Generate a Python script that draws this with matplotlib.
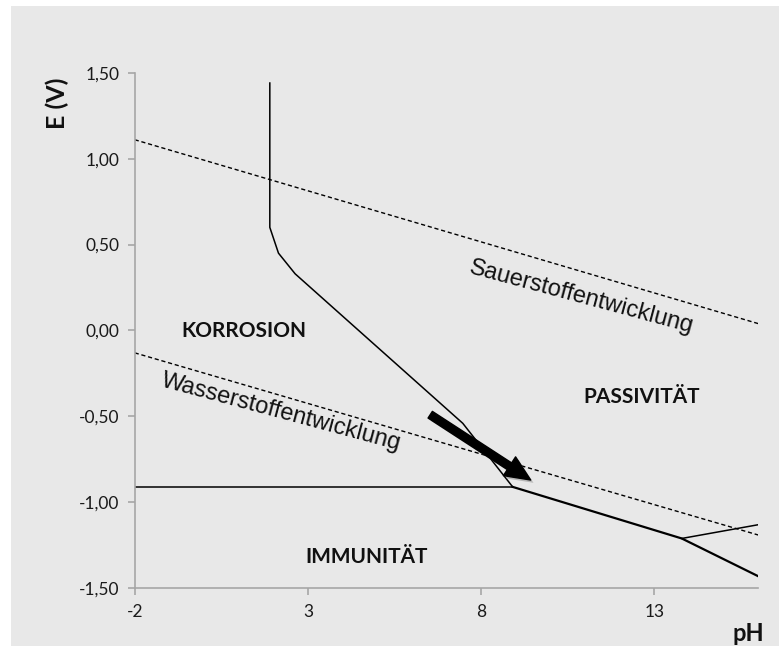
import numpy as np
import matplotlib
matplotlib.use("Agg")
import matplotlib.pyplot as plt
from matplotlib.patches import Rectangle
import matplotlib.patheffects as pe

# ---------------- data ----------------
x_ticks = [-2, 3, 8, 13]
y_ticks = [-1.5, -1.0, -0.5, 0.0, 0.5, 1.0, 1.5]
y_ticklabels = ["-1,50", "-1,00", "-0,50", "0,00", "0,50", "1,00", "1,50"]

ph_o2 = [-2, 16]
e_o2 = [1.11, 0.04]
ph_h2 = [-2, 16]
e_h2 = [-0.13, -1.19]

ph_corr = [1.9, 1.9, 2.15, 2.63, 7.47, 8.91]
e_corr = [1.44, 0.60, 0.45, 0.33, -0.54, -0.91]

ph_imm = [-2, 8.91]
e_imm = [-0.91, -0.91]

ph_pass = [8.91, 13.79, 16]
e_pass = [-0.91, -1.21, -1.43]

ph_branch = [13.79, 16]
e_branch = [-1.21, -1.13]

arrow_start = (6.53, -0.49)
arrow_end = (9.43, -0.87)

region_labels = ["KORROSION", "PASSIVITÄT", "IMMUNITÄT"]
region_ph = [1.16, 12.63, 4.69]
region_e = [-0.035, -0.42, -1.352]

line_labels = ["Sauerstoffentwicklung", "Wasserstoffentwicklung"]
line_label_ph = [10.89, 2.22]
line_label_e = [0.195, -0.475]

# ---------------- figure ----------------
W, H = 779, 646
fig = plt.figure(figsize=(W / 100, H / 100), dpi=100)
fig.patch.set_facecolor("white")
bg = "#e8e8e8"
fig.patches.append(Rectangle((11 / W, 0), 1 - 11 / W, (H - 6) / H,
                             transform=fig.transFigure, facecolor=bg,
                             edgecolor="none", zorder=-10))

ax = fig.add_axes([134.7 / W, 1 - 588.3 / H, (758.3 - 134.7) / W, (588.3 - 72.7) / H])
ax.set_zorder(5)
ax.set_facecolor("none")
ax.set_xlim(-2, 16)
ax.set_ylim(-1.5, 1.5)

for s in ["top", "right"]:
    ax.spines[s].set_visible(False)
for s in ["left", "bottom"]:
    ax.spines[s].set_color("#a6a6a6")
    ax.spines[s].set_linewidth(1.2)

ax.set_xticks(x_ticks)
ax.set_xticklabels([str(v) for v in x_ticks])
ax.set_yticks(y_ticks)
ax.set_yticklabels(y_ticklabels)
ax.tick_params(direction="out", length=5, width=1.2, color="#a6a6a6",
               labelsize=12.5, labelcolor="#1a1a1a", pad=6)
for lab in ax.get_xticklabels() + ax.get_yticklabels():
    lab.set_family("Lato")

# lines
ax.plot(ph_o2, e_o2, color="black", lw=1.0, ls=(0, (3, 2)))
ax.plot(ph_h2, e_h2, color="black", lw=1.0, ls=(0, (3, 2)))
ax.plot(ph_corr, e_corr, color="black", lw=1.1)
ax.plot(ph_imm, e_imm, color="black", lw=1.1)
ax.plot(ph_pass, e_pass, color="black", lw=1.6)
ax.plot(ph_branch, e_branch, color="black", lw=1.1)

# arrow
ann = ax.annotate("", xy=arrow_end, xytext=arrow_start,
                  arrowprops=dict(arrowstyle="simple,head_length=0.7,head_width=0.62,tail_width=0.22",
                                  mutation_scale=26, color="black", shrinkA=0, shrinkB=0))
ann.arrow_patch.set_path_effects([
    pe.SimplePatchShadow(offset=(2, -2), shadow_rgbFace="#888888", alpha=0.5),
    pe.Normal()])

# region labels
for t, x, y in zip(region_labels, region_ph, region_e):
    ax.text(x, y, t, ha="center", va="baseline", fontsize=15,
            fontweight="bold", family="Lato", color="#111111")

# line labels
for t, x, y in zip(line_labels, line_label_ph, line_label_e):
    ax.text(x, y, t, ha="center", va="center", rotation=-15,
            rotation_mode="anchor", fontsize=17, family="Liberation Sans",
            color="#111111")

# axis labels
fig.text(57 / W, 1 - 103 / H, "E (V)", rotation=90, ha="center", va="center",
         fontsize=18, fontweight="bold", family="Lato", color="#111111")
fig.text(748 / W, 1 - 641 / H, "pH", ha="center", va="baseline",
         fontsize=17, fontweight="bold", family="Lato", color="#111111")

fig.savefig("out.png", dpi=100, facecolor=fig.get_facecolor())
